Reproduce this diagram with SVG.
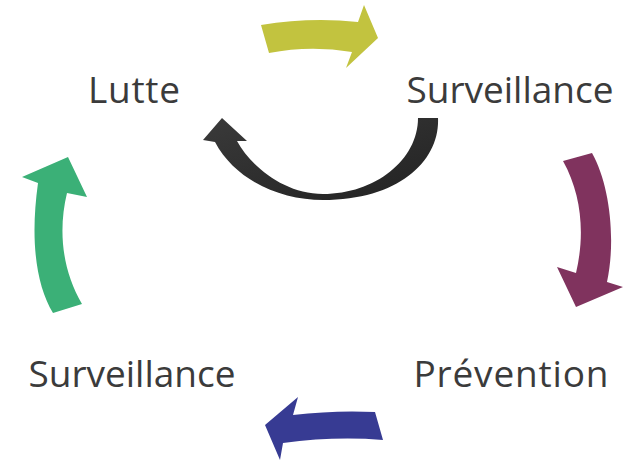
<svg xmlns="http://www.w3.org/2000/svg" width="630" height="461" viewBox="0 0 630 461">
<style>
.lbl{font-family:"Open Sans","Liberation Sans",sans-serif;font-size:37px;fill:#3b3b3b;text-anchor:middle}
</style>
<defs>
<linearGradient id="dk" x1="0" y1="0" x2="1" y2="1">
<stop offset="0" stop-color="#3a3a3a"/>
<stop offset="1" stop-color="#222"/>
</linearGradient>
</defs>
<rect width="630" height="461" fill="#fff"/>
<g id="connectors">
<path id="a-yellow" fill="#c2c33f" d="M261,25 Q310,17 358,22 L364,5 L378,38 L346,68 L352,52 Q310,45 269,53 Z"/>
<path id="a-dark" fill="url(#dk)" d="M438,118 C440,160 400,200 323,200 C280,200 235,180 215,142 L203,140 L222,118 L247,141 L237,141 C250,165 283,194 323,194 C375,194 418,160 418,118 Z"/>
<path id="a-purple" fill="#80335e" d="M563,161 L592,153 C610,185 616,240 607,282 L623,287 L576,307 L557,267 L576,273 C585,235 582,195 563,161 Z"/>
<path id="a-blue" fill="#373b93" d="M375,412 Q335,410 293,415 L298,397 L265,425 L280,460 L283,443 Q335,436 383,440 Z"/>
<path id="a-green" fill="#3bb077" d="M53,313 C36,285 30,240 38,183 L22,177 L68,157 L87,197 L67,193 C58,230 62,270 82,304 Z"/>
</g>
<g id="n-lutte"><text class="lbl" x="134" y="103" textLength="92" lengthAdjust="spacing">Lutte</text></g>
<g id="n-surv1"><text class="lbl" x="510" y="103">Surveillance</text></g>
<g id="n-prev"><text class="lbl" x="511" y="387" textLength="195" lengthAdjust="spacing">Prévention</text></g>
<g id="n-surv2"><text class="lbl" x="132" y="387">Surveillance</text></g>
</svg>
